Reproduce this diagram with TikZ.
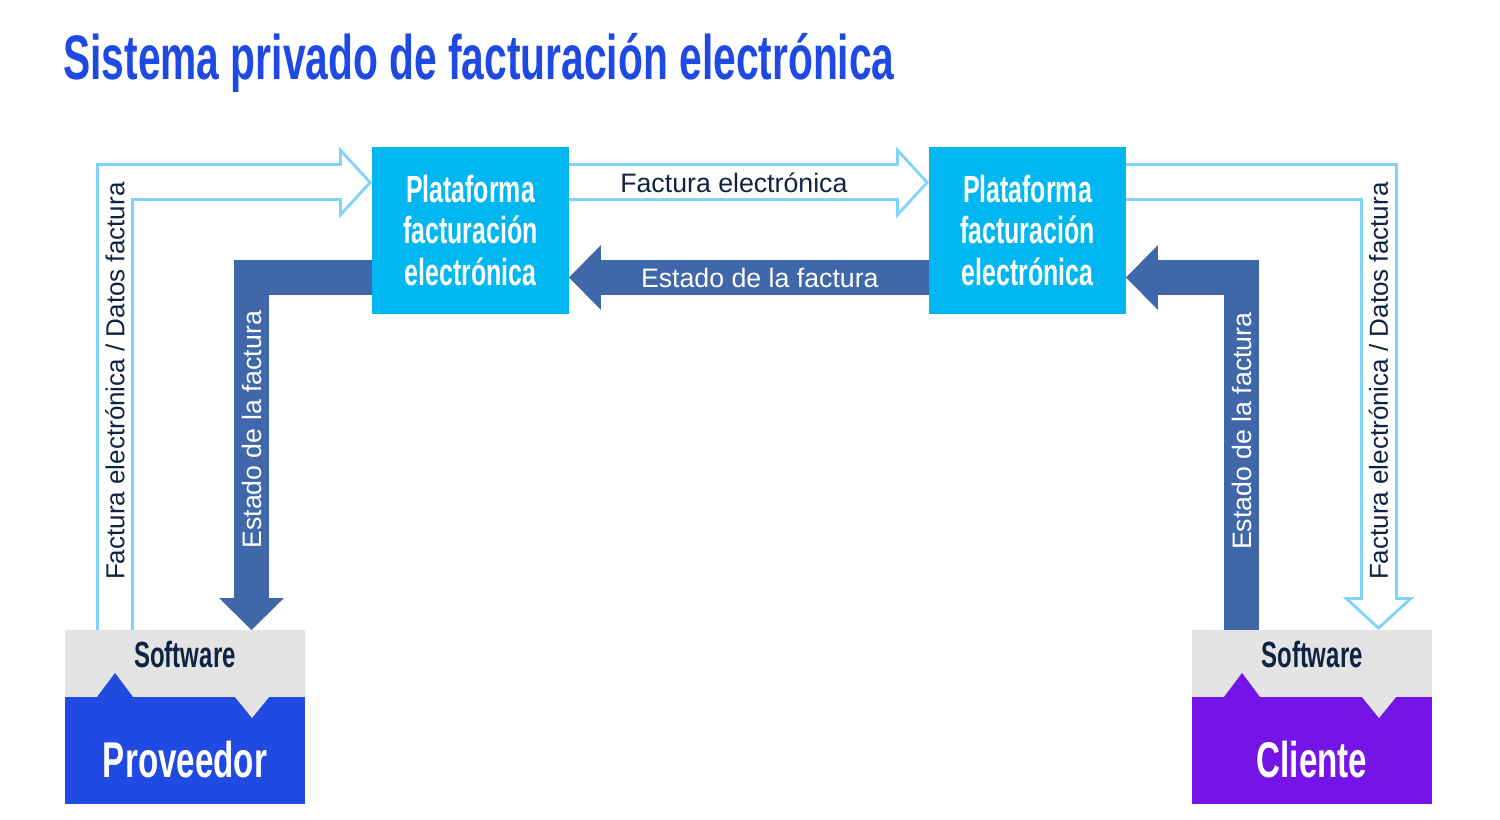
\documentclass[tikz,border=0pt]{standalone}
\usepackage{fontspec}
\setmainfont{Liberation Sans}
\usepackage{graphicx}
\usetikzlibrary{arrows.meta,calc}
\definecolor{titleblue}{RGB}{30,73,226}
\definecolor{platcyan}{RGB}{0,183,241}
\definecolor{darkarr}{RGB}{64,103,170}
\definecolor{lightarr}{RGB}{128,212,250}
\definecolor{provblue}{RGB}{32,74,226}
\definecolor{clipurple}{RGB}{116,20,230}
\definecolor{swgrey}{RGB}{228,228,228}
\definecolor{navy}{RGB}{14,36,64}
\newcommand{\cond}[2][0.66]{\scalebox{#1}[1]{#2}}

\begin{document}
\begin{tikzpicture}[
    x=0.02cm, y=-0.02cm,
    platbox/.style={fill=platcyan, minimum width=3.94cm, minimum height=3.34cm, inner sep=0pt, outer sep=0pt, align=center, text=white, font=\fontsize{21.5}{23.6}\selectfont\bfseries},
    swbox/.style={fill=swgrey, minimum width=4.8cm, minimum height=1.34cm, inner sep=0pt, outer sep=0pt},
    actorbox/.style={minimum width=4.8cm, minimum height=2.14cm, inner sep=0pt, outer sep=0pt},
    swtext/.style={text=navy, inner sep=0pt, font=\fontsize{20.7}{24}\selectfont\bfseries},
    actortext/.style={text=white, inner sep=0pt, font=\fontsize{28.6}{32}\selectfont\bfseries},
    lbl/.style={inner sep=0pt, font=\fontsize{15.2}{18}\selectfont},
    vlbl/.style={inner sep=0pt, rotate=90, font=\fontsize{14.8}{18}\selectfont},
    darr/.style={draw=darkarr, line width=0.7cm, line join=miter, -{Triangle[length=0.64cm, width=1.3cm, line width=0pt]}},
    harrout/.style={draw=lightarr, line width=0.76cm, line join=miter, -{Triangle[length=0.66cm, width=1.44cm, line width=0pt]}},
    harrin/.style={draw=white, line width=0.64cm, line join=miter, shorten >=0.081cm, -{Triangle[length=0.518cm, width=1.13cm, line width=0pt]}}
]
\useasboundingbox (0,0) rectangle (1500,820);

\node[anchor=base west, inner sep=0pt, text=titleblue, font=\fontsize{35.8}{40}\selectfont\bfseries] (title) at (63,80) {\cond[0.648]{Sistema privado de facturación electrónica}};

% platforms
\node[platbox] (plat1) at (470.5,230.5) {\cond{Plataforma}\\\cond{facturación}\\\cond{electrónica}};
\node[platbox] (plat2) at (1027.5,230.5) {\cond{Plataforma}\\\cond{facturación}\\\cond{electrónica}};

% software + actors
\node[swbox] (sw1) at (185,663.5) {};
\node[swbox] (sw2) at (1312,663.5) {};
\node[actorbox, fill=provblue] (prov) at (185,750.5) {};
\node[actorbox, fill=clipurple] (cli) at (1312,750.5) {};
\foreach \b/\c in {prov/provblue, cli/clipurple} {
    \fill[\c] ($(\b.north west)+(32,0)$) -- ($(\b.north west)+(50,-24)$) -- ($(\b.north west)+(68,0)$) -- cycle;
    \fill[swgrey] ($(\b.north west)+(170,0)$) -- ($(\b.north west)+(187,21)$) -- ($(\b.north west)+(204,0)$) -- cycle;
}
\node[swtext] (sw1t) at ($(sw1.center)+(0,-9.5)$) {\cond{Software}};
\node[swtext] (sw2t) at ($(sw2.center)+(0,-9.5)$) {\cond{Software}};
\node[actortext] (provt) at ($(prov.center)+(0,9.5)$) {\cond{Proveedor}};
\node[actortext] (clit) at ($(cli.center)+(0,9.5)$) {\cond{Cliente}};

% factura electronica (hollow arrows)
\draw[harrout] ($(sw1.north west)+(50,0)$) |- ($(plat1.west)+(0,-48)$);
\draw[harrin] ($(sw1.north west)+(50,0)$) |- node[vlbl, pos=0.278, text=navy] (lblA) {Factura electrónica / Datos factura} ($(plat1.west)+(0,-48)$);
\draw[harrout] ($(plat1.east)+(0,-48)$) -- ($(plat2.west)+(0,-48)$);
\draw[harrin] ($(plat1.east)+(0,-48)$) -- node[lbl, pos=0.458, text=navy] (lblB) {Factura electrónica} ($(plat2.west)+(0,-48)$);
\draw[harrout] ($(plat2.east)+(0,-48)$) -| ($(sw2.north west)+(186.5,0)$);
\draw[harrin] ($(plat2.east)+(0,-48)$) -| node[vlbl, pos=0.722, text=navy] (lblC) {Factura electrónica / Datos factura} ($(sw2.north west)+(186.5,0)$);

% estado de la factura (filled arrows)
\draw[darr] ($(plat2.west)+(0,47)$) -- node[lbl, pos=0.47, text=white] (lblD) {Estado de la factura} ($(plat1.east)+(0,47)$);
\draw[darr] ($(plat1.west)+(0,47)$) -| node[lbl, pos=0.716, rotate=90, text=white] (lblE) {Estado de la factura} ($(sw1.north west)+(186.5,0)$);
\draw[darr] ($(sw2.north west)+(49.5,0)$) |- node[lbl, pos=0.282, rotate=90, text=white] (lblF) {Estado de la factura} ($(plat2.east)+(0,47)$);
\end{tikzpicture}
\end{document}
